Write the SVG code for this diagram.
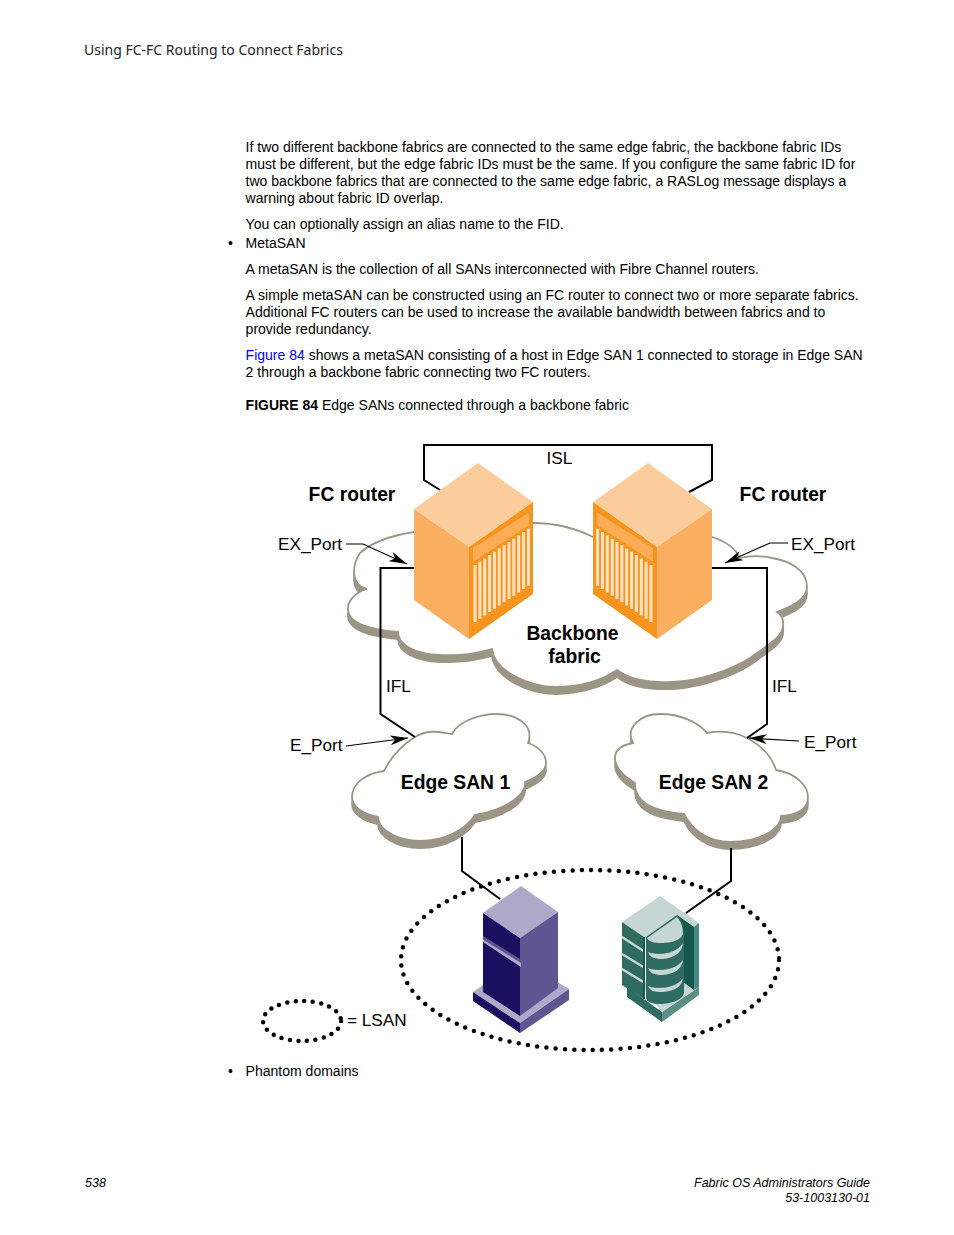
<svg xmlns="http://www.w3.org/2000/svg" xmlns:xlink="http://www.w3.org/1999/xlink" width="954" height="1235" viewBox="0 0 954 1235">
<style>
text{font-family:"Liberation Sans",Arial,sans-serif;fill:#000}
.b{font-size:14.02px}
.hd{font-family:"Noto Sans","Open Sans",sans-serif;font-size:14px;fill:#222}
.ft{font-size:12.5px;font-style:italic}
.lab{font-size:17.2px}
.bold{font-size:19.3px;font-weight:bold}
.cloud{fill:#fff;stroke:#9c9586;stroke-width:1.8}
.shadow{fill:#9c9586;stroke:#9c9586;stroke-width:1.8}
.conn{fill:none;stroke:#000;stroke-width:2}
.arr{fill:none;stroke:#000;stroke-width:1.2;marker-end:url(#ah)}
.dots{fill:none;stroke:#000;stroke-width:4.5;stroke-linecap:round}
</style>
<defs>
<marker id="ah" viewBox="0 -5 18 10" refX="18" refY="0" markerWidth="18" markerHeight="10" markerUnits="userSpaceOnUse" orient="auto"><path d="M18,0 L0,-5 L5,0 L0,5 Z" fill="#000"/></marker>
<path id="cb" d="M414,532 C395,535 374,540 360,553 C352,565 350,585 367,589 C355,592 347,602 348,610 C349,625 375,630 398,632 C398,645 415,654 440,655 C460,656 478,653 492,649 C495,672 530,687 556,687 C580,687 602,680 617,670 C630,680 650,683 673,682 C710,680 745,663 757,653 C772,642 785,635 783,622 C783,618 780,614 777,612 C790,607 807,600 807,587 C807,570 790,561 772,558 C758,555 748,556 740,558 C735,548 725,541 712,537 L593,537 C575,528 555,523 533,523 Z"/>
<path id="c1" d="M415,737 C430,728 442,733 452,734 C458,722 478,714 497,714 C515,714 535,724 528,743 C540,747 546,755 546,763 C546,772 535,778 525,782 C527,795 505,810 475,815 C465,830 445,841 420,841 C398,841 378,830 378,817 C362,814 352,806 352,797 C352,782 368,773 384,771 C392,755 402,745 415,737 Z"/>
<path id="c2" d="M747,738 C762,746 772,757 776,770 C795,773 808,785 808,797 C808,810 795,815 781,816 C780,832 755,842 731,842 C708,842 692,830 684,814 C660,812 634,805 635,783 C623,776 615,768 615,758 C615,750 622,745 633,743 C625,728 640,714 660,714 C680,714 698,722 707,733 C722,730 735,732 747,738 Z"/>
<g id="router">
<polygon points="478,463 533,502 469,547 414,509" fill="#fccd9c"/>
<polygon points="414,509 469,547 469,639 414,600" fill="#faae60"/>
<polygon points="469,547 533,502 533,594 469,639" fill="#f7941e"/>
<polygon points="473,548 529,512.5 529,525 473,562" fill="#fbac55"/>
<path d="M475,565v57M479.9,561.7v57M484.7,558.4v57M489.6,555.1v57M494.4,551.8v57M499.3,548.5v57M504.1,545.3v57M509,542v57M513.8,538.7v57M518.7,535.4v57M523.5,532.1v57M528.4,528.8v57" stroke="#fee2c2" stroke-width="3" fill="none"/>
</g>
</defs>
<rect width="954" height="1235" fill="#fff"/>

<g id="page-text">
<text class="hd" x="84" y="55">Using FC-FC Routing to Connect Fabrics</text>
<text class="b" x="245.600" y="152">If two different backbone fabrics are connected to the same edge fabric, the backbone fabric IDs</text>
<text class="b" x="245.600" y="169">must be different, but the edge fabric IDs must be the same. If you configure the same fabric ID for</text>
<text class="b" x="245.600" y="186">two backbone fabrics that are connected to the same edge fabric, a RASLog message displays a</text>
<text class="b" x="245.600" y="203">warning about fabric ID overlap.</text>
<text class="b" x="245.600" y="229">You can optionally assign an alias name to the FID.</text>
<text class="b" x="228" y="248">•</text>
<text class="b" x="245.600" y="248">MetaSAN</text>
<text class="b" x="245.600" y="274">A metaSAN is the collection of all SANs interconnected with Fibre Channel routers.</text>
<text class="b" x="245.600" y="300">A simple metaSAN can be constructed using an FC router to connect two or more separate fabrics.</text>
<text class="b" x="245.600" y="317">Additional FC routers can be used to increase the available bandwidth between fabrics and to</text>
<text class="b" x="245.600" y="334">provide redundancy.</text>
<text class="b" x="245.600" y="360"><tspan fill="#0000ff">Figure 84</tspan> shows a metaSAN consisting of a host in Edge SAN 1 connected to storage in Edge SAN</text>
<text class="b" x="245.600" y="377">2 through a backbone fabric connecting two FC routers.</text>
<text class="b" x="245.600" y="410"><tspan font-weight="bold">FIGURE 84</tspan> Edge SANs connected through a backbone fabric</text>
<text class="b" x="228" y="1076">•</text>
<text class="b" x="245.600" y="1076">Phantom domains</text>
<text class="ft" x="85" y="1187">538</text>
<text class="ft" x="870" y="1187" text-anchor="end">Fabric OS Administrators Guide</text>
<text class="ft" x="870" y="1202" text-anchor="end">53-1003130-01</text>
</g>

<g id="backbone-cloud"><use xlink:href="#cb" href="#cb" class="shadow" y="7"/><use xlink:href="#cb" href="#cb" class="cloud"/></g>
<g id="edge-san-1"><use xlink:href="#c1" href="#c1" class="shadow" y="7"/><use xlink:href="#c1" href="#c1" class="cloud"/></g>
<g id="edge-san-2"><use xlink:href="#c2" href="#c2" class="shadow" y="7"/><use xlink:href="#c2" href="#c2" class="cloud"/></g>

<g id="connectors">
<path class="conn" d="M440,490 L424,480 V445 H712 V480 L689,492"/>
<path class="conn" d="M414,568 H380.500 V714 L415,737"/>
<path class="conn" d="M712,568 H767 V724 L747,738"/>
<path class="conn" d="M462,837 V871 L500,899"/>
<path class="conn" d="M731,848 V881 L686,913"/>
<path class="arr" d="M346,544 H363 L407,564"/>
<path class="arr" d="M788,543 H770 L725,563"/>
<path class="arr" d="M346,746 L408,738"/>
<path class="arr" d="M799,741 L749,738"/>
<ellipse class="dots" cx="590" cy="960" rx="189" ry="90" stroke-dasharray="0 9.3"/>
<ellipse class="dots" cx="302" cy="1021" rx="39" ry="20" stroke-dasharray="0 8.5"/>
</g>

<g id="fc-router-left"><use xlink:href="#router" href="#router"/></g>
<g id="fc-router-right"><use xlink:href="#router" href="#router" transform="matrix(-1 0 0 1 1126 0)"/></g>

<g id="host">
<polygon points="473,992 520,960 569,989 520,1023" fill="#afa9c9"/>
<polygon points="473,992 520,1023 520,1033 473,1001" fill="#1b0f5f"/>
<polygon points="520,1023 569,989 569,1000 520,1033" fill="#5f5593"/>
<polygon points="521,886 558,912 520,938 483,913" fill="#afa9c9"/>
<polygon points="483,913 520,938 520,1016 483,992" fill="#1b0f5f"/>
<polygon points="520,938 558,912 558,988 520,1016" fill="#5f5593"/>
<polygon points="483,936 520,959 520,963 483,939.500" fill="#5f5593"/>
<polygon points="483,939.500 521,963 521,967 483,942" fill="#afa9c9"/>
</g>

<g id="storage">
<polygon points="627,987 662,1012 662,1022 627,997" fill="#2f6b60"/>
<polygon points="662,1012 699,987 699,995 662,1022" fill="#5b8f86"/>
<polygon points="640,985 662,1012 699,987 680,965" fill="#c5d6d3"/>
<polygon points="660,896 699,923 680,960 644,937 622,922" fill="#c5d6d3"/>
<polygon points="677,915 694,927 694,990 683,982 680,935" fill="#14584f"/>
<polygon points="694,927 699,923 699,987 694,990" fill="#4a8a7f"/>
<polygon points="622,922 644,937 644,999 622,985" fill="#2f6b60"/>
<path d="M622,937 L645,952 M622,954 L645,968 M622,969 L645,983" stroke="#c5d6d3" stroke-width="2.500" fill="none"/>
<path d="M644,937 V999" stroke="#14584f" stroke-width="2" fill="none"/>
<path d="M646,937 L677,915 C682,918 684,928 684,934 V992 C684,1000 670,1004 660,1004 C652,1004 647,1002 646,998 Z" fill="#2f6b60"/>
<path d="M647,938 L677,917 C681,921 683,928 683,934 C680,942 668,943 660,943 C654,943 649,942 647,938 Z" fill="#c5d6d3"/>
<path d="M648,952 C654,955 675,956 683,943 C682,952 676,958 662,959 C654,959 650,957 648,952 Z M648,968 C654,971 675,972 683,960 C682,968 676,974 662,975 C654,975 650,973 648,968 Z M648,986 C654,989 675,990 683,978 C682,986 676,991 662,992 C654,992 650,991 648,986 Z" fill="#c5d6d3"/>
</g>

<g id="labels">
<text class="lab" x="559.500" y="463.500" text-anchor="middle">ISL</text>
<text class="bold" x="352" y="501" text-anchor="middle">FC router</text>
<text class="bold" x="783" y="501" text-anchor="middle">FC router</text>
<text class="lab" x="278" y="550">EX_Port</text>
<text class="lab" x="791" y="550">EX_Port</text>
<text class="lab" x="386" y="692">IFL</text>
<text class="lab" x="772" y="692">IFL</text>
<text class="bold" x="572.500" y="640" text-anchor="middle">Backbone</text>
<text class="bold" x="574.500" y="663" text-anchor="middle">fabric</text>
<text class="lab" x="290" y="751">E_Port</text>
<text class="lab" x="804" y="748">E_Port</text>
<text class="bold" x="455.500" y="789" text-anchor="middle">Edge SAN 1</text>
<text class="bold" x="713.500" y="789" text-anchor="middle">Edge SAN 2</text>
<text class="lab" x="347" y="1026">= LSAN</text>
</g>
</svg>
